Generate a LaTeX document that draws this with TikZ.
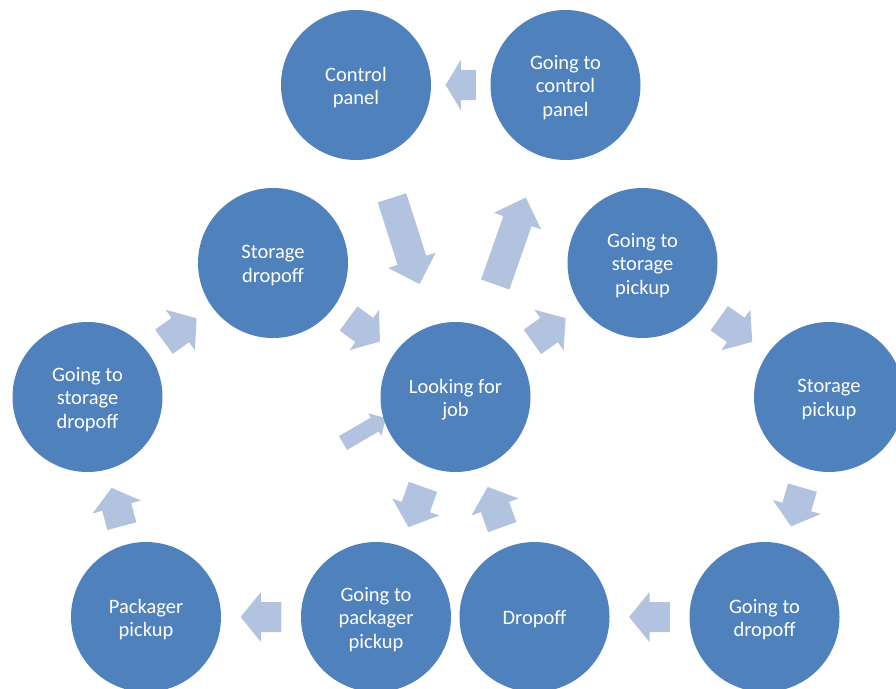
\documentclass[tikz,border=0pt]{standalone}
\usepackage{fontspec}
\setmainfont{Carlito}
\usetikzlibrary{calc,backgrounds}
\definecolor{stateblue}{HTML}{4F81BD}
\definecolor{flowblue}{HTML}{B2C3DF}
\tikzset{
  state/.style={circle, fill=stateblue, minimum size=150pt, inner sep=0pt,
    label={[statetext]center:#1}},
  statetext/.style={text=white, align=center, yshift=-2.5pt, inner sep=0pt,
    font=\fontsize{20.5}{23.5}\selectfont},
  flowfill/.style={fill=flowblue},
}
% block arrow centred between two states, pointing from #1 to #2
\newcommand\flowarrow[2]{%
  \fill[flowfill] let \p1=($(#2)-(#1)$), \n1={atan2(\y1,\x1)},
    \n2={(veclen(\x1,\y1)-150pt)*0.255}, \n3={min(\n2,25pt)},
    \p2=($(#1)!0.5!(#2)$) in
    [shift={(\p2)}, rotate=\n1]
    (-\n2,-15pt) -- (\n2-\n3,-15pt) -- (\n2-\n3,-25pt) -- (\n2,0pt)
    -- (\n2-\n3,25pt) -- (\n2-\n3,15pt) -- (-\n2,15pt) -- cycle;}
% slim block arrow running from #1 to #2
\newcommand\stubarrow[2]{%
  \fill[flowfill] let \p1=($(#2)-(#1)$), \n1={atan2(\y1,\x1)},
    \n2={veclen(\x1,\y1)} in
    [shift={(#1)}, rotate=\n1]
    (0pt,-8pt) -- (\n2-13pt,-8pt) -- (\n2-13pt,-13pt) -- (\n2,0pt)
    -- (\n2-13pt,13pt) -- (\n2-13pt,8pt) -- (0pt,8pt) -- cycle;}
\begin{document}
\begin{tikzpicture}[x=1pt,y=-1pt]
\useasboundingbox (0,0) rectangle (896,688);
% states
\node[state={Control\\panel}]              (cp)  at (356,85)    {};
\node[state={Going to\\control\\panel}]    (gcp) at (565.5,85)  {};
\node[state={Storage\\dropoff}]            (sd)  at (273,263)   {};
\node[state={Going to\\storage\\pickup}]   (gsp) at (642.5,263) {};
\node[state={Looking for\\job}]            (lj)  at (455.5,397) {};
\node[state={Going to\\storage\\dropoff}]  (gsd) at (87.5,397)  {};
\node[state={Storage\\pickup}]             (sp)  at (829,397)   {};
\node[state={Packager\\pickup}]            (pp)  at (146,617)   {};
\node[state={Going to\\packager\\pickup}]  (gpp) at (376,617)   {};
\node[state={Dropoff}]                     (do)  at (534.5,617) {};
\node[state={Going to\\dropoff}]           (gdo) at (764.5,617) {};
\coordinate (stubtail) at (343,443);
\coordinate (stubtip)  at (386,418);
% transitions
\begin{pgfonlayer}{background}
\flowarrow{gcp}{cp}
\flowarrow{cp}{lj}
\flowarrow{lj}{gcp}
\flowarrow{sd}{lj}
\flowarrow{gsd}{sd}
\flowarrow{pp}{gsd}
\flowarrow{gpp}{pp}
\flowarrow{lj}{gpp}
\flowarrow{do}{lj}
\flowarrow{gdo}{do}
\flowarrow{sp}{gdo}
\flowarrow{gsp}{sp}
\flowarrow{lj}{gsp}
\stubarrow{stubtail}{stubtip}
\end{pgfonlayer}
\end{tikzpicture}
\end{document}
